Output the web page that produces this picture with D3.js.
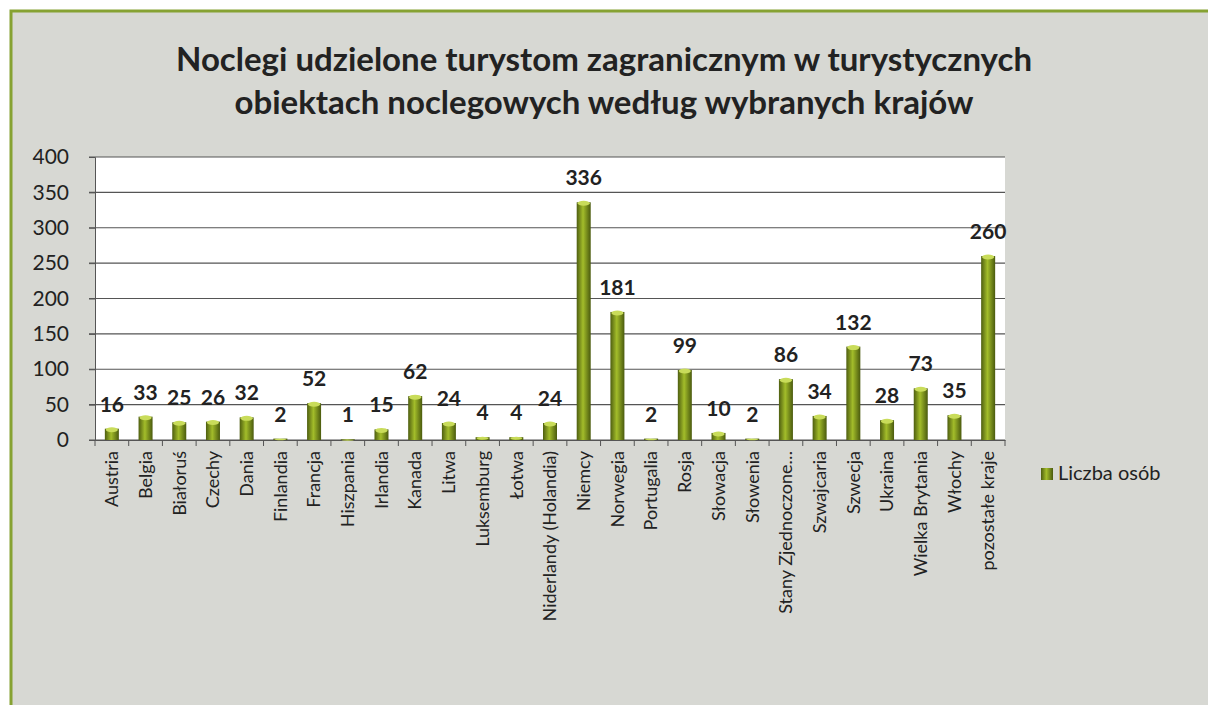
<!DOCTYPE html>
<html lang="pl">
<head>
<meta charset="UTF-8">
<title>Noclegi udzielone turystom zagranicznym</title>
<script src="https://d3js.org/d3.v7.min.js"></script>
<style>
  html, body { margin: 0; padding: 0; background: #fff; }
  svg { display: block; font-family: Lato, "Open Sans", sans-serif; }
</style>
</head>
<body>
<div id="chart"></div>
<script>
// dane
const kraje = ["Austria", "Belgia", "Białoruś", "Czechy", "Dania", "Finlandia", "Francja",
  "Hiszpania", "Irlandia", "Kanada", "Litwa", "Luksemburg", "Łotwa", "Niderlandy (Holandia)",
  "Niemcy", "Norwegia", "Portugalia", "Rosja", "Słowacja", "Słowenia", "Stany Zjednoczone…",
  "Szwajcaria", "Szwecja", "Ukraina", "Wielka Brytania", "Włochy", "pozostałe kraje"];
const liczbaOsob = [16, 33, 25, 26, 32, 2, 52, 1, 15, 62, 24, 4, 4, 24, 336, 181, 2, 99, 10, 2,
  86, 34, 132, 28, 73, 35, 260];
const yTicks = [0, 50, 100, 150, 200, 250, 300, 350, 400];
const tytul = ["Noclegi udzielone turystom zagranicznym w turystycznych",
  "obiektach noclegowych według wybranych krajów"];
const seria = "Liczba osób";

const width = 1208, height = 705;
const plot = { left: 95, right: 1005, top: 157, bottom: 440 };

const svg = d3.select("#chart").append("svg")
  .attr("width", width)
  .attr("height", height);

const defs = svg.append("defs");
const grad = defs.append("linearGradient").attr("id", "bar").attr("x1", 0).attr("x2", 1);
grad.append("stop").attr("offset", "0%").attr("stop-color", "#4e5e10");
grad.append("stop").attr("offset", "45%").attr("stop-color", "#a3bd2a");
grad.append("stop").attr("offset", "100%").attr("stop-color", "#4a5a0e");

// tlo z ramka (prawa i dolna krawedz poza kadrem)
svg.append("rect")
  .attr("x", 11).attr("y", 11)
  .attr("width", width + 10).attr("height", height + 10)
  .attr("fill", "#d7d8d3")
  .attr("stroke", "#86a232").attr("stroke-width", 3);

// tytul
svg.append("g").selectAll("text")
  .data(tytul)
  .join("text")
  .attr("x", 604)
  .attr("y", (d, i) => 71 + i * 43)
  .attr("text-anchor", "middle")
  .attr("font-size", 33)
  .attr("font-weight", "bold")
  .attr("fill", "#222")
  .text(d => d);

const x = d3.scaleBand().domain(kraje).range([plot.left, plot.right]);
const y = d3.scaleLinear().domain([0, 400]).range([plot.bottom, plot.top]);

svg.append("rect")
  .attr("x", plot.left).attr("y", plot.top)
  .attr("width", plot.right - plot.left).attr("height", plot.bottom - plot.top)
  .attr("fill", "#fff");

// siatka
svg.append("g")
  .selectAll("line")
  .data(yTicks)
  .join("line")
  .attr("x1", plot.left - 6).attr("x2", plot.right)
  .attr("y1", d => y(d)).attr("y2", d => y(d))
  .attr("stroke", "#555").attr("stroke-width", 1.2);

// os Y
const yAxis = svg.append("g")
  .attr("transform", `translate(${plot.left},0)`)
  .call(d3.axisLeft(y).tickValues(yTicks).tickSize(6).tickPadding(20));
yAxis.select(".domain").attr("stroke", "#555");
yAxis.selectAll("line").attr("stroke", "#555");
yAxis.selectAll("text").attr("font-size", 21).attr("fill", "#222").attr("font-family", "Lato, sans-serif");

// os X
const xAxis = svg.append("g")
  .attr("transform", `translate(0,${plot.bottom})`)
  .call(d3.axisBottom(x).tickSize(0).tickPadding(0));
xAxis.select(".domain").attr("stroke", "#555").attr("stroke-width", 1.2);
xAxis.selectAll("text")
  .attr("font-size", 18)
  .attr("fill", "#222")
  .attr("font-family", "Lato, sans-serif")
  .attr("transform", "rotate(-90)")
  .attr("text-anchor", "end")
  .attr("dy", "0.35em")
  .attr("x", -11)
  .attr("y", 0);

// kreski podzialu kategorii
svg.append("g")
  .selectAll("line")
  .data(kraje.concat(["__end"]))
  .join("line")
  .attr("x1", (d, i) => plot.left + i * x.step())
  .attr("x2", (d, i) => plot.left + i * x.step())
  .attr("y1", plot.bottom).attr("y2", plot.bottom + 6)
  .attr("stroke", "#555");

// slupki
const bw = 14;
const bars = svg.append("g").selectAll("g")
  .data(kraje.map((k, i) => ({ k, v: liczbaOsob[i] })))
  .join("g");

bars.append("rect")
  .attr("x", d => x(d.k) + x.bandwidth() / 2 - bw / 2)
  .attr("y", d => y(d.v))
  .attr("width", bw)
  .attr("height", d => plot.bottom - y(d.v))
  .attr("fill", "url(#bar)");

bars.append("ellipse")
  .attr("cx", d => x(d.k) + x.bandwidth() / 2)
  .attr("cy", d => y(d.v) + 1)
  .attr("rx", bw / 2 - 1)
  .attr("ry", d => Math.min(2.5, (plot.bottom - y(d.v)) / 2))
  .attr("fill", "#c9dc5a");

bars.append("text")
  .attr("x", d => x(d.k) + x.bandwidth() / 2)
  .attr("y", d => y(d.v) - 17)
  .attr("text-anchor", "middle")
  .attr("font-size", 21)
  .attr("font-weight", "bold")
  .attr("fill", "#222")
  .text(d => d.v);

// legenda
const leg = svg.append("g").attr("transform", "translate(1041,468)");
leg.append("rect").attr("width", 12).attr("height", 12).attr("fill", "url(#bar)");
leg.append("text")
  .attr("x", 17).attr("y", 12)
  .attr("font-size", 20)
  .attr("fill", "#222")
  .text(seria);
</script>
</body>
</html>
